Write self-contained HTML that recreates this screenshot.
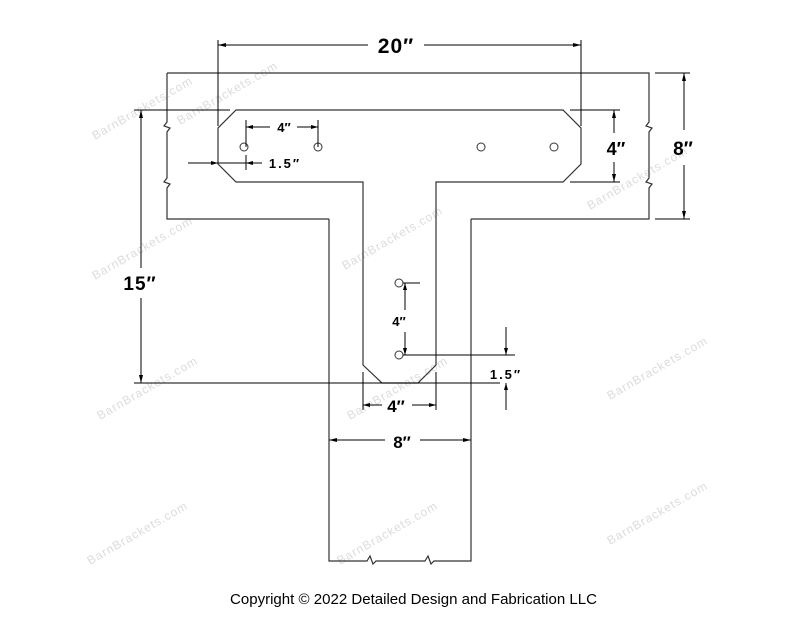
<!DOCTYPE html>
<html><head><meta charset="utf-8"><style>
html,body{margin:0;padding:0;background:#fff;}
svg{display:block;}
text{font-family:"Liberation Sans",sans-serif;}
.w{fill:#dcdcdc;font-size:12px;letter-spacing:1px;}
.d{font-weight:bold;fill:#000;}
</style></head><body>
<svg width="800" height="618" viewBox="0 0 800 618" xmlns="http://www.w3.org/2000/svg">
<g class="w">
<text transform="translate(95,140) rotate(-30)">BarnBrackets.com</text>
<text transform="translate(345,270) rotate(-30)">BarnBrackets.com</text>
<text transform="translate(590,210) rotate(-30)">BarnBrackets.com</text>
<text transform="translate(95,280) rotate(-30)">BarnBrackets.com</text>
<text transform="translate(100,420) rotate(-30)">BarnBrackets.com</text>
<text transform="translate(350,420) rotate(-30)">BarnBrackets.com</text>
<text transform="translate(610,400) rotate(-30)">BarnBrackets.com</text>
<text transform="translate(90,565) rotate(-30)">BarnBrackets.com</text>
<text transform="translate(340,565) rotate(-30)">BarnBrackets.com</text>
<text transform="translate(610,545) rotate(-30)">BarnBrackets.com</text>
<text transform="translate(180,125) rotate(-30)">BarnBrackets.com</text>
</g>
<g fill="none" stroke="#333" stroke-width="1.2">
<!-- beam -->
<path d="M167,73 H649 V122 l-3,4 6,2 -3,4 V178 l-3,4 6,2 -3,4 V219 H471"/>
<path d="M329,219 H167 V188 l3,-4 -6,-2 3,-4 V132 l3,-4 -6,-2 3,-4 V73"/>
<!-- post -->
<path d="M329,219 V561 H367 l3,-5 3,8 3,-3 H425 l3,-5 3,8 3,-3 H471 V219"/>
<!-- bracket -->
<path d="M236,110 H563 L581,128 V164 L563,182 H436 V365 L418,383 H382 L363,365 V182 H236 L218,164 V128 Z"/>
</g>
<g fill="#fff" stroke="#333" stroke-width="1">
<circle cx="244" cy="147" r="4"/><circle cx="318" cy="147" r="4"/>
<circle cx="481" cy="147" r="4"/><circle cx="554" cy="147" r="4"/>
<circle cx="399" cy="283" r="4"/><circle cx="399" cy="355" r="4"/>
</g>
<g stroke="#000" stroke-width="1" fill="none">
<path d="M218,40 V126 M581,40 V126 M218,45 H368 M424,45 H581"/>
<path d="M134,110 H230 M134,383 H500 M141,110 V268 M141,298 V383"/>
<path d="M655,73 H690 M655,219 H690 M684,73 V130 M684,165 V219"/>
<path d="M570,110 H620 M570,182 H620 M614,110 V133 M614,162 V182"/>
<path d="M246,120 V147 M318,120 V147 M246,127 H270 M297,127 H318"/>
<path d="M188,163 H262 M246,155 V170"/>
<path d="M403,283 H420 M403,355 H515 M405,283 V310 M405,332 V355"/>
<path d="M506,327 V355 M506,383 V410"/>
<path d="M363,372 V410 M436,372 V410 M363,405 H382 M412,405 H436"/>
<path d="M329,440 H385 M420,440 H471"/>
</g>
<g fill="#000">
<path d="M218,45 l8,-2 v4z M581,45 l-8,-2 v4z"/>
<path d="M141,110 l-2,8 h4z M141,383 l-2,-8 h4z"/>
<path d="M684,73 l-2,8 h4z M684,219 l-2,-8 h4z"/>
<path d="M614,110 l-2,8 h4z M614,182 l-2,-8 h4z"/>
<path d="M246,127 l7,-2 v4z M318,127 l-7,-2 v4z"/>
<path d="M218,163 l-7,-2 v4z M246,163 l7,-2 v4z"/>
<path d="M405,283 l-2,7 h4z M405,355 l-2,-7 h4z"/>
<path d="M506,355 l-2,-7 h4z M506,383 l-2,7 h4z"/>
<path d="M363,405 l7,-2 v4z M436,405 l-7,-2 v4z"/>
<path d="M329,440 l8,-2 v4z M471,440 l-8,-2 v4z"/>
</g>
<g class="d" text-anchor="middle">
<text x="396" y="53" font-size="21" letter-spacing="1">20″</text>
<text x="140" y="290" font-size="19" letter-spacing="1">15″</text>
<text x="683" y="155" font-size="19">8″</text>
<text x="616" y="155" font-size="18">4″</text>
<text x="284" y="132" font-size="13">4″</text>
<text x="285" y="168" font-size="13" letter-spacing="2">1.5″</text>
<text x="399" y="326" font-size="13">4″</text>
<text x="506" y="379" font-size="13" letter-spacing="2">1.5″</text>
<text x="396" y="412" font-size="17">4″</text>
<text x="402" y="448" font-size="17">8″</text>
</g>
<text x="230" y="604" font-size="14.5" textLength="367" lengthAdjust="spacingAndGlyphs" fill="#000">Copyright © 2022 Detailed Design and Fabrication LLC</text>
</svg>
</body></html>
